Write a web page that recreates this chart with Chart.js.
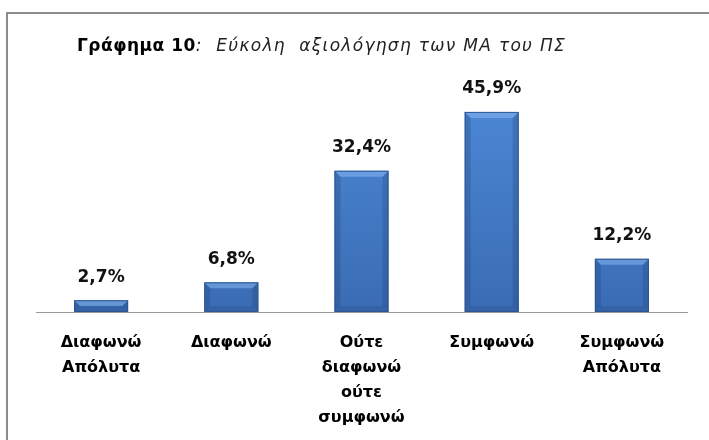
<!DOCTYPE html>
<html>
<head>
<meta charset="utf-8">
<script src="https://cdn.jsdelivr.net/npm/chart.js@4"></script>
<style>
	html, body { margin: 0; padding: 0; background: #fff; }
	#wrap { position: relative; width: 709px; height: 440px; overflow: hidden; }
	#frame { position: absolute; left: 6px; top: 12px; width: 800px; height: 600px; border: 2px solid #8c8c8c; }
	canvas { position: absolute; left: 0; top: 0; }
</style>
</head>
<body>
<div id="wrap">
	<div id="frame"></div>
	<canvas id="grafico" width="709" height="440"></canvas>
</div>
<script>
const categories = [
	['Διαφωνώ', 'Απόλυτα'],
	['Διαφωνώ'],
	['Ούτε', 'διαφωνώ', 'ούτε', 'συμφωνώ'],
	['Συμφωνώ'],
	['Συμφωνώ', 'Απόλυτα']
]
const values = [2.7, 6.8, 32.4, 45.9, 12.2]
const titleBold = 'Γράφημα 10'
const titleItalic = ':  Εύκολη  αξιολόγηση των ΜΑ του ΠΣ'

const fontFamily = '"DejaVu Sans", sans-serif'

// vertical gradient over the plot area, light at the top
const barGradient = ctx => {
	const area = ctx.chart.chartArea
	if (!area) return '#4478c4'
	const g = ctx.chart.ctx.createLinearGradient(0, area.top, 0, area.bottom)
	g.addColorStop(0, '#4c88d5')
	g.addColorStop(1, '#3a6cb4')
	return g
}

// bevel look: darker sides, lighter top edge
const bevelPlugin = {
	id: 'bevel',
	afterDatasetsDraw(chart) {
		const ctx = chart.ctx
		const meta = chart.getDatasetMeta(0)
		ctx.save()
		meta.data.forEach(bar => {
			const x0 = bar.x - bar.width / 2
			const x1 = bar.x + bar.width / 2
			const top = bar.y
			const bottom = bar.base
			const b = Math.min(6, (bottom - top) / 2)
			ctx.fillStyle = 'rgba(20, 45, 90, 0.2)'
			ctx.beginPath()
			ctx.moveTo(x0, top); ctx.lineTo(x0 + b, top + b); ctx.lineTo(x0 + b, bottom - b); ctx.lineTo(x0, bottom)
			ctx.closePath(); ctx.fill()
			ctx.beginPath()
			ctx.moveTo(x1, top); ctx.lineTo(x1 - b, top + b); ctx.lineTo(x1 - b, bottom - b); ctx.lineTo(x1, bottom)
			ctx.closePath(); ctx.fill()
			ctx.fillStyle = 'rgba(20, 45, 90, 0.15)'
			ctx.beginPath()
			ctx.moveTo(x0, bottom); ctx.lineTo(x0 + b, bottom - b); ctx.lineTo(x1 - b, bottom - b); ctx.lineTo(x1, bottom)
			ctx.closePath(); ctx.fill()
			ctx.fillStyle = 'rgba(140, 190, 245, 0.5)'
			ctx.beginPath()
			ctx.moveTo(x0, top); ctx.lineTo(x1, top); ctx.lineTo(x1 - b, top + b); ctx.lineTo(x0 + b, top + b)
			ctx.closePath(); ctx.fill()
			ctx.strokeStyle = '#2f5590'
			ctx.lineWidth = 1
			ctx.strokeRect(x0 + 0.5, top + 0.5, bar.width - 1, bottom - top - 1)
		})
		ctx.restore()
	}
}

const labelsPlugin = {
	id: 'valueLabels',
	afterDatasetsDraw(chart) {
		const ctx = chart.ctx
		const meta = chart.getDatasetMeta(0)
		ctx.save()
		ctx.font = 'bold 17px ' + fontFamily
		ctx.fillStyle = '#111'
		ctx.textAlign = 'center'
		ctx.textBaseline = 'middle'
		meta.data.forEach((bar, i) => {
			ctx.fillText(values[i].toFixed(1).replace('.', ',') + '%', bar.x, bar.y - 23)
		})
		ctx.restore()
	}
}

const titlePlugin = {
	id: 'mixedTitle',
	afterDraw(chart) {
		const ctx = chart.ctx
		ctx.save()
		ctx.textBaseline = 'middle'
		ctx.fillStyle = '#000'
		ctx.font = 'bold 17px ' + fontFamily
		ctx.letterSpacing = '0.5px'
		ctx.fillText(titleBold, 77, 47)
		const w = ctx.measureText(titleBold).width
		ctx.font = 'italic 17px ' + fontFamily
		ctx.letterSpacing = '1.3px'
		ctx.fillStyle = '#222'
		ctx.fillText(titleItalic, 77 + w, 47)
		ctx.restore()
	}
}

new Chart(document.getElementById('grafico'), {
	type: 'bar',
	data: {
		labels: categories,
		datasets: [{
			data: values,
			backgroundColor: barGradient,
			borderWidth: 0,
			categoryPercentage: 1,
			barPercentage: 0.415
		}]
	},
	options: {
		responsive: false,
		animation: false,
		layout: { padding: { left: 36, right: 22, top: 94, bottom: 0 } },
		plugins: {
			legend: { display: false },
			tooltip: { enabled: false }
		},
		scales: {
			x: {
				grid: { display: false },
				border: { display: true, color: '#9a9a9a', width: 1 },
				ticks: {
					color: '#000',
					padding: 10,
					maxRotation: 0,
					autoSkip: false,
					font: { family: fontFamily, size: 16, weight: 'bold', lineHeight: '25px' }
				}
			},
			y: {
				display: false,
				min: 0,
				max: 50
			}
		}
	},
	plugins: [bevelPlugin, labelsPlugin, titlePlugin]
})
</script>
</body>
</html>
